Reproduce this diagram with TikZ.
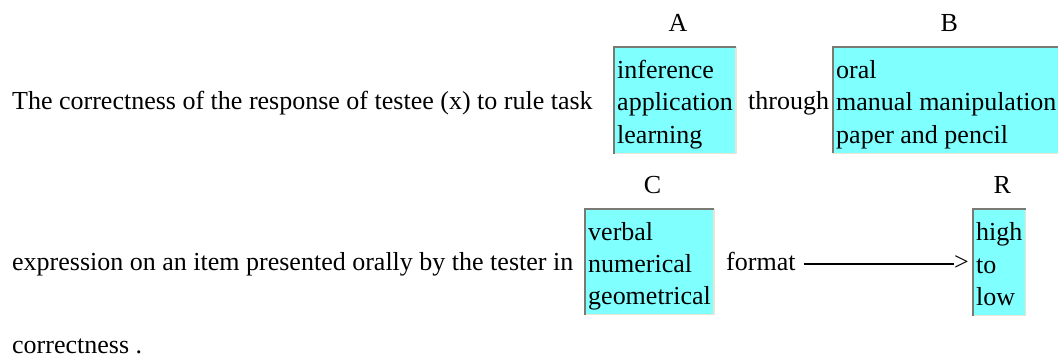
\documentclass[tikz,border=0pt]{standalone}
\usepackage{fontspec}
\setmainfont{Liberation Serif}
\usepackage{tikz}
\usetikzlibrary{positioning}
\definecolor{boxfill}{HTML}{80FFFF}
\definecolor{darkedge}{HTML}{7A7A72}
\definecolor{lightedge}{HTML}{E8E4D6}
\newcommand{\lnstrut}{\rule[-5.5pt]{0pt}{32pt}}

\begin{document}
\begin{tikzpicture}
[x=1pt,y=1pt,font=\fontsize{26}{32}\selectfont]
\tikzset{txt/.style={anchor=base west,inner sep=0pt}}
\tikzset{choice/.style={anchor=north west,fill=boxfill,align=left,inner xsep=3pt,inner ysep=4.5pt}}
\tikzset{lbl/.style={inner sep=0pt,xshift=3pt}}
\useasboundingbox [fill=white] (0,0) rectangle (1058,358);

\node [txt] (s1) at (12,248) {The correctness of the response of testee (x) to rule task};
\node [choice] (boxA) at (614,311) {\lnstrut inference\\\lnstrut application\\\lnstrut learning};
\node [txt] (thr) at (748,248) {through};
\node [choice] (boxB) at (833,311) {\lnstrut oral\\\lnstrut manual manipulation\\\lnstrut paper and pencil};

\node [txt] (s2) at (12,87) {expression on an item presented orally by the tester in};
\node [choice] (boxC) at (585,149) {\lnstrut verbal\\\lnstrut numerical\\\lnstrut geometrical};
\node [txt] (fmt) at (726,87) {format};
\node [txt] (gt) at (954,87) {>};
\node [choice] (boxR) at (973,149) {\lnstrut high\\\lnstrut to\\\lnstrut low};

\node [txt] (s3) at (12,4) {correctness .};

\node [lbl,above=15pt of boxA] (labA) {A};
\node [lbl,above=15pt of boxB] (labB) {B};
\node [lbl,above=15pt of boxC] (labC) {C};
\node [lbl,above=15pt of boxR] (labR) {R};

\foreach \b in {boxA,boxB,boxC,boxR}
	\draw [lightedge,line width=1.5pt] (\b.south west) -| (\b.north east);
\foreach \b in {boxA,boxB,boxC,boxR}
	\draw [darkedge,line width=2.5pt] (\b.south west) |- (\b.north east);

\draw [line width=1.2pt] ([xshift=8pt,yshift=7pt]fmt.base east) -- ([yshift=7pt]gt.base west);

\end{tikzpicture}
\end{document}
